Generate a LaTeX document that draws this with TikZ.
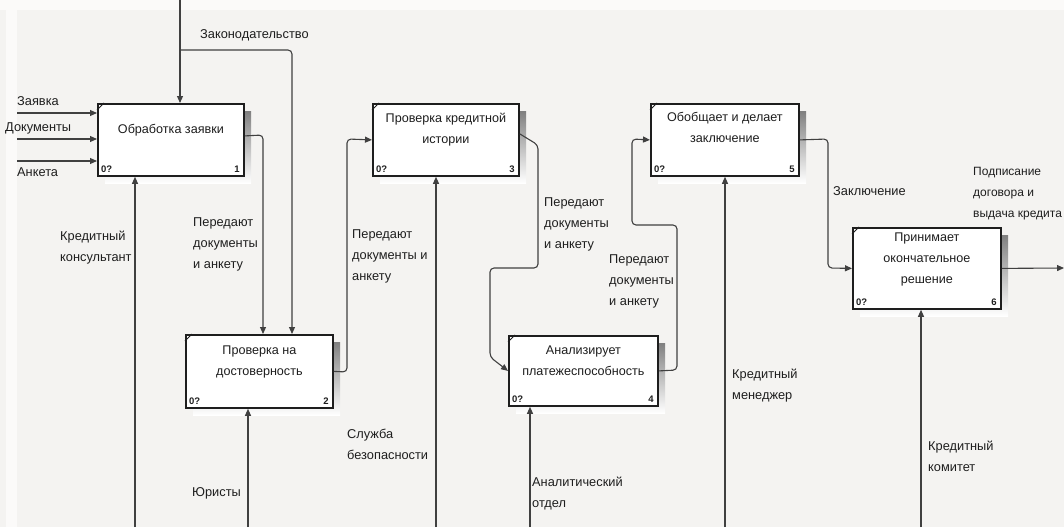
\documentclass[tikz,border=0pt]{standalone}
\usepackage{fontspec}
\setmainfont{Liberation Sans}
\usetikzlibrary{arrows.meta}
\definecolor{paper}{HTML}{F4F3F1}
\definecolor{ink}{HTML}{1E1E1E}
\definecolor{shade}{HTML}{BDBDBD}
\tikzset{
  funcbox/.style={draw=ink, line width=1.8pt, fill=white!97!paper, inner sep=0pt, anchor=north west},
  boxtext/.style={font=\fontsize{12.6}{21}\selectfont, text=ink, align=center, inner sep=0pt},
  boxtag/.style={font=\fontsize{9.5}{10}\selectfont\bfseries, text=ink, inner sep=0pt},
  lbl/.style={font=\fontsize{12.8}{21}\selectfont, text=ink, align=left, inner sep=0pt, anchor=north west},
  conn/.style={draw=ink!85, line width=1.1pt, rounded corners=4pt, -{Triangle[length=7pt,width=6pt]}},
}
% activity box with shadow, corner tick and tags
\newcommand{\actbox}[6]{% name, x, y, w, h, number
  \fill[shade] (#2+8,#3+8) rectangle ++(#4,#5);
  \node[funcbox, minimum width=#4pt, minimum height=#5pt] (#1) at (#2,#3) {};
  \draw[ink, line width=0.8pt] ([yshift=-7pt]#1.north west) -- ([xshift=7pt]#1.north west);
  \node[boxtag, anchor=south west] at ([shift={(4pt,4pt)}]#1.south west) {0?};
  \node[boxtag, anchor=south east] at ([shift={(-5pt,4pt)}]#1.south east) {#6};
}
\begin{document}
\begin{tikzpicture}[x=1pt, y=-1pt]
  \fill[paper] (0,0) rectangle (1064,527);
  \useasboundingbox (0,0) rectangle (1064,527);
  \fill[white!60!paper] (0,0) rectangle (1064,10);
  \fill[white!60!paper] (6,10) rectangle (17,527);

  % activities
  \actbox{b1}{97}{103}{146}{72}{1}
  \actbox{b2}{185}{334}{147}{73}{2}
  \actbox{b3}{372}{103}{146}{72}{3}
  \actbox{b4}{508}{335}{149}{70}{4}
  \actbox{b5}{650}{103}{148}{72}{5}
  \actbox{b6}{852}{227}{148}{81}{6}

  \node[boxtext, anchor=north] (t1) at ([yshift=-21pt]b1.north) {Обработка заявки};
  \node[boxtext, anchor=north] (t2) at ([yshift=-12pt]b2.north) {Проверка на\\достоверность};
  \node[boxtext, anchor=north] (t3) at ([yshift=-10pt]b3.north) {Проверка кредитной\\истории};
  \node[boxtext, anchor=north] (t4) at ([yshift=-11pt]b4.north) {Анализирует\\платежеспособность};
  \node[boxtext, anchor=north] (t5) at ([yshift=-9pt]b5.north) {Обобщает и делает\\заключение};
  \node[boxtext, anchor=north] (t6) at ([yshift=-6pt]b6.north) {Принимает\\окончательное\\решение};

  % inputs of activity 1
  \coordinate (inA) at (17,113);
  \coordinate (inB) at (17,139);
  \coordinate (inC) at (17,161);
  \draw[conn] (inA) -- (inA -| b1.west);
  \draw[conn] (inB) -- (inB -| b1.west);
  \draw[conn] (inC) -- (inC -| b1.west);
  \node[lbl] (lA) at (17,96) {Заявка};
  \node[lbl] (lB) at (5,122) {Документы};
  \node[lbl] (lC) at (17,167) {Анкета};

  % control: legislation
  \coordinate (ctl) at (180,0);
  \coordinate (ctlsplit) at (180,50);
  \draw[conn] (ctl) -- (ctl |- b1.north);
  \draw[conn] (ctlsplit) -- (292,50) -- (292,0 |- b2.north);
  \node[lbl] (lLaw) at (200,29) {Законодательство};

  % 1 -> 2
  \draw[conn] ([yshift=4pt]b1.east) -- (263,135) -- (263,0 |- b2.north);
  \node[lbl] (l12) at (193,217) {Передают\\документы\\и анкету};

  % 2 -> 3
  \draw[conn] (b2.east) -- (347,372) -- (347,139) -- (b3.west);
  \node[lbl] (l23) at (352,229) {Передают\\документы и\\анкету};

  % 3 -> 4
  \draw[conn] ([yshift=6pt]b3.east) -- (538,145) -- (538,268) -- (490,268) -- (490,357) -- (b4.west);
  \node[lbl] (l34) at (544,197) {Передают\\документы\\и анкету};

  % 4 -> 5
  \draw[conn] (b4.east) -- (677,370) -- (677,225) -- (632,225) -- (632,139) -- (b5.west);
  \node[lbl] (l45) at (609,254) {Передают\\документы\\и анкету};

  % 5 -> 6
  \draw[conn] (b5.east) -- (828,139) -- (828,268) -- (b6.west);
  \node[lbl] (l56) at (833,186) {Заключение};

  % output of 6
  \coordinate (out) at (1064,268);
  \draw[conn] (b6.east) -- (out);
  \node[lbl, font=\fontsize{12}{21}\selectfont] (lOut) at (973,167) {Подписание\\договора и\\выдача кредита};

  % mechanisms
  \coordinate (m1) at (135,527);
  \coordinate (m2) at (248,527);
  \coordinate (m3) at (436,527);
  \coordinate (m4) at (530,527);
  \coordinate (m5) at (725,527);
  \coordinate (m6) at (921,527);
  \draw[conn] (m1) -- (m1 |- b1.south);
  \draw[conn] (m2) -- (m2 |- b2.south);
  \draw[conn] (m3) -- (m3 |- b3.south);
  \draw[conn] (m4) -- (m4 |- b4.south);
  \draw[conn] (m5) -- (m5 |- b5.south);
  \draw[conn] (m6) -- (m6 |- b6.south);
  \node[lbl] (lm1) at (60,231) {Кредитный\\консультант};
  \node[lbl] (lm2) at (192,487) {Юристы};
  \node[lbl] (lm3) at (347,429) {Служба\\безопасности};
  \node[lbl] (lm4) at (532,477) {Аналитический\\отдел};
  \node[lbl] (lm5) at (732,369) {Кредитный\\менеджер};
  \node[lbl] (lm6) at (928,441) {Кредитный\\комитет};
\end{tikzpicture}
\end{document}
